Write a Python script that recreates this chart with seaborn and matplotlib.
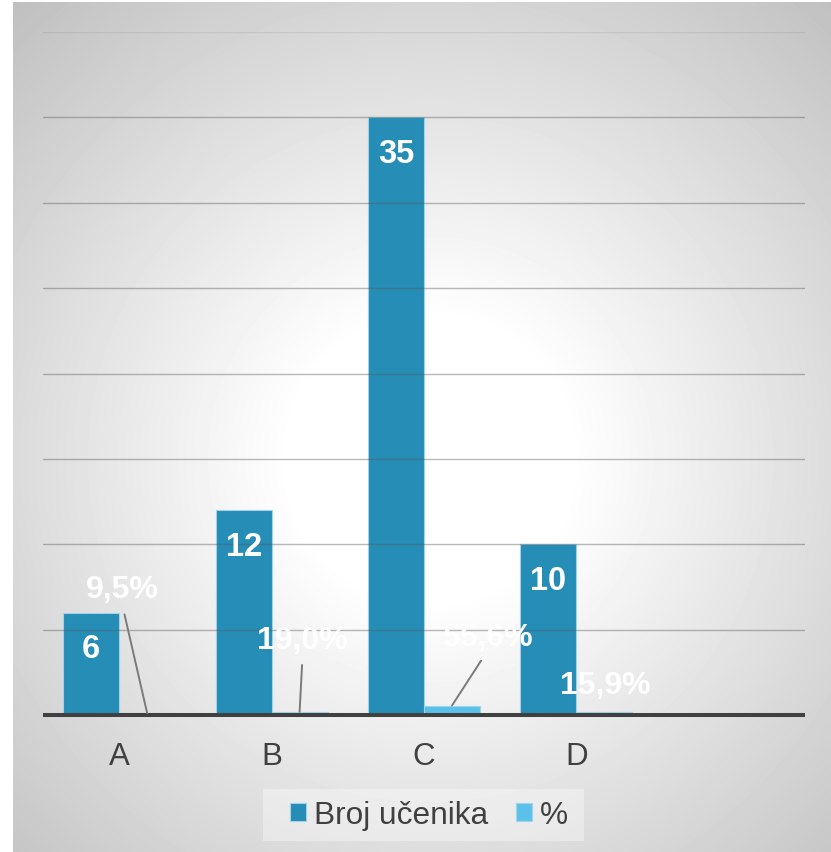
import numpy as np
import pandas as pd
import matplotlib
matplotlib.use("Agg")
import matplotlib.pyplot as plt
from matplotlib.patches import Patch, Rectangle
import seaborn as sns

# ---- data ----
categories = ["A", "B", "C", "D"]
broj_ucenika = [6, 12, 35, 10]
postotak = [9.5, 19.0, 55.6, 15.9]          # percent of students
series_names = ["Broj učenika", "%"]
axis_order = categories + [""]              # trailing empty slot on the axis

colors = {"Broj učenika": "#258DB6", "%": "#5CC1E8"}

df = pd.DataFrame({
    "Kategorija": categories * 2,
    "Serija": [series_names[0]] * len(categories) + [series_names[1]] * len(categories),
    "Vrijednost": broj_ucenika + [p / 100 for p in postotak],
})

sns.set_theme(style="white")
plt.rcParams["font.family"] = ["Liberation Sans", "DejaVu Sans"]

W, H, DPI = 831, 853, 100
fig = plt.figure(figsize=(W / DPI, H / DPI), dpi=DPI, facecolor="white")

# ---- chart area background with a soft radial glow ----
bx0, by0 = 13, 3
bw, bh = W - bx0, H - by0
bg = fig.add_axes([bx0 / W, 0, bw / W, bh / H], zorder=0)
yy, xx = np.mgrid[0:bh, 0:bw]
r = np.hypot(xx - (430 - bx0), yy - (460 - by0))
shade = 1.0 - 0.25 * np.clip((r - 140) / 480, 0, 1)
bg.imshow(shade, cmap="gray", vmin=0, vmax=1, aspect="auto",
          interpolation="bilinear")
bg.axis("off")

# ---- plot area ----
ax = fig.add_axes([43 / W, (H - 716) / H, 762 / W, 683 / H], zorder=1)
ax.patch.set_alpha(0)

sns.barplot(data=df, x="Kategorija", y="Vrijednost", hue="Serija",
            order=axis_order, hue_order=series_names, palette=colors,
            width=0.735, saturation=1, errorbar=None, legend=False,
            edgecolor="#9fd4ea", linewidth=0.8, ax=ax)

ax.set_xlim(-0.5, len(axis_order) - 0.5)
ax.set_ylim(0, 40)
ax.set_xlabel("")
ax.set_ylabel("")

# horizontal gridlines, drawn over the bars
ax.set_yticks(range(5, 40, 5))
ax.set_axisbelow(False)
ax.grid(axis="y", color="#595959", alpha=0.42, linewidth=1.0)
ax.grid(axis="x", visible=False)
ax.axhline(40, color="#595959", alpha=0.12, linewidth=1.0, zorder=2)
ax.tick_params(axis="y", length=0, labelleft=False)
ax.tick_params(axis="x", length=0, pad=19, labelsize=22.5, labelcolor="#404040")

for side in ["left", "right", "top"]:
    ax.spines[side].set_visible(False)
ax.spines["bottom"].set_color("#404040")
ax.spines["bottom"].set_linewidth(2.9)
ax.spines["bottom"].set_capstyle("butt")
ax.spines["bottom"].set_zorder(5)

# ---- data labels ----
for bar, val in zip(ax.containers[0], broj_ucenika):
    ax.annotate(f"{val}", xy=(bar.get_x() + bar.get_width() / 2, bar.get_height()),
                xytext=(0, -36), textcoords="offset pixels", ha="center", va="center",
                color="white", fontweight="bold", fontsize=23.5, zorder=6)

pct_offsets = [(-25, 124), (3, 72), (35, 69), (1, 27)]
pct_leader = [True, True, True, False]
for bar, p, off, lead in zip(ax.containers[1], postotak, pct_offsets, pct_leader):
    label = f"{p:.1f}".replace(".", ",") + "%"
    props = None
    if lead:
        props = dict(arrowstyle="-", color="#7a7a7a", lw=1.4,
                     shrinkA=5, shrinkB=0, relpos=(0.5, 0))
    ax.annotate(label, xy=(bar.get_x() + bar.get_width() / 2, bar.get_height()),
                xytext=off, textcoords="offset pixels", ha="center", va="center",
                color="white", fontweight="bold", fontsize=23, zorder=6,
                arrowprops=props)

# ---- legend ----
fig.patches.append(Rectangle((263 / W, (H - 842) / H), 321 / W, 52 / H,
                             transform=fig.transFigure, facecolor="white",
                             alpha=0.35, edgecolor="none", zorder=2))
handles = [Patch(facecolor=colors[s], edgecolor="#9fd4ea", linewidth=0.8)
           for s in series_names]
fig.legend(handles, series_names, loc="center",
           bbox_to_anchor=(429 / W, (H - 816) / H), ncol=2, frameon=False,
           fontsize=22.8, handlelength=0.5, handleheight=0.5,
           handletextpad=0.25, columnspacing=0.9, labelcolor="#404040")

fig.savefig("out.png", dpi=DPI)
